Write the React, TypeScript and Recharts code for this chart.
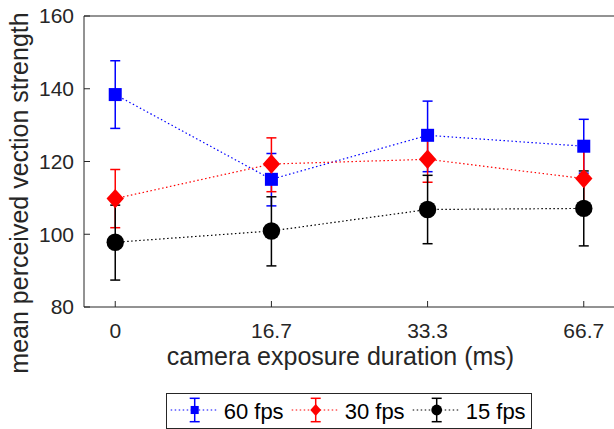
import React from 'react';
import { LineChart, Line, XAxis, YAxis, ErrorBar, Legend, Label } from 'recharts';

const categories = ['0', '16.7', '33.3', '66.7'];
const categoryPos = [0, 1, 2, 3];

const fps60Mean = [138.4, 115.1, 127.2, 124.2];
const fps60Upper = [147.7, 122.2, 136.6, 131.6];
const fps60Lower = [129.1, 107.8, 117.2, 116.8];

const fps30Mean = [109.8, 119.3, 120.6, 115.3];
const fps30Upper = [117.8, 126.5, 126.7, 122.9];
const fps30Lower = [101.8, 111.7, 114.3, 107.7];

const fps15Mean = [97.8, 100.9, 106.8, 107.1];
const fps15Upper = [108.0, 110.3, 116.2, 117.4];
const fps15Lower = [87.4, 91.3, 97.4, 96.8];

const yTicks = [80, 100, 120, 140, 160];
const seriesNames = ['60 fps', '30 fps', '15 fps'];

const data = categories.map((c, i) => ({
  pos: categoryPos[i],
  label: c,
  fps60: fps60Mean[i],
  fps60Err: [fps60Mean[i] - fps60Lower[i], fps60Upper[i] - fps60Mean[i]],
  fps30: fps30Mean[i],
  fps30Err: [fps30Mean[i] - fps30Lower[i], fps30Upper[i] - fps30Mean[i]],
  fps15: fps15Mean[i],
  fps15Err: [fps15Mean[i] - fps15Lower[i], fps15Upper[i] - fps15Mean[i]],
}));

const FONT = '"Liberation Sans", Arial, Helvetica, sans-serif';
const AXIS = '#262626';
const BLUE = '#0000ff';
const RED = '#ff0000';
const BLACK = '#000000';

const series = [
  { key: 'fps60', err: 'fps60Err', name: seriesNames[0], color: BLUE, shape: 'square' },
  { key: 'fps30', err: 'fps30Err', name: seriesNames[1], color: RED, shape: 'diamond' },
  { key: 'fps15', err: 'fps15Err', name: seriesNames[2], color: BLACK, shape: 'circle' },
];

function marker(shape: string, cx: number, cy: number, color: string, scale: number, key?: string) {
  if (shape === 'square') {
    const s = 13 * scale;
    return <rect key={key} x={cx - s / 2} y={cy - s / 2} width={s} height={s} fill={color} />;
  }
  if (shape === 'diamond') {
    const w = 8.7 * scale;
    const h = 9.7 * scale;
    return (
      <polygon
        key={key}
        points={`${cx},${cy - h} ${cx + w},${cy} ${cx},${cy + h} ${cx - w},${cy}`}
        fill={color}
      />
    );
  }
  return <circle key={key} cx={cx} cy={cy} r={8.7 * scale} fill={color} />;
}

const makeDot = (shape: string, color: string) => (props: any) => {
  const { cx, cy, index } = props;
  if (cx == null || cy == null) return <g key={`e-${shape}-${index}`} />;
  return marker(shape, cx, cy, color, 1, `d-${shape}-${index}`);
};

const renderLegend = () => (
  <div
    style={{
      width: 366,
      height: 36,
      boxSizing: 'border-box',
      border: `1px solid ${AXIS}`,
      background: '#fff',
    }}
  >
    <svg width={364} height={34} style={{ display: 'block' }}>
      {series.map((s, i) => {
        const x0 = 3.7 + i * 121;
        const mx = x0 + 24;
        return (
          <g key={s.key}>
            <line x1={x0} y1={16} x2={x0 + 47.5} y2={16} stroke={s.color} strokeWidth={1.2} strokeDasharray="1.5 2.5" />
            <line x1={mx} y1={4.3} x2={mx} y2={27.7} stroke={s.color} strokeWidth={1.5} />
            <line x1={mx - 5} y1={4.3} x2={mx + 5} y2={4.3} stroke={s.color} strokeWidth={1.5} />
            <line x1={mx - 5} y1={27.7} x2={mx + 5} y2={27.7} stroke={s.color} strokeWidth={1.5} />
            {marker(s.shape, mx, 16, s.color, 0.62)}
            <text x={x0 + 53} y={24.5} fontSize={22} fontFamily={FONT} fill="#000">
              {s.name}
            </text>
          </g>
        );
      })}
    </svg>
  </div>
);

const YLabel = () => (
  <text
    x={28}
    y={193}
    transform="rotate(-90 28 193)"
    textAnchor="middle"
    fontSize={25}
    fontFamily={FONT}
    fill={AXIS}
  >
    mean perceived vection strength
  </text>
);

export default function App() {
  return (
    <div style={{ position: 'absolute', left: 0, top: 0, width: 614, height: 429, overflow: 'hidden', background: '#fff', fontFamily: FONT }}>
      <LineChart
        width={640}
        height={429}
        data={data}
        margin={{ top: 15, right: 24, left: 0, bottom: 16 }}
      >
        <XAxis
          xAxisId="top"
          orientation="top"
          dataKey="pos"
          type="number"
          domain={[-0.2, 3.2]}
          ticks={categoryPos}
          allowDataOverflow
          height={1}
          tick={false}
          tickSize={-6}
          axisLine={{ stroke: AXIS, strokeWidth: 1 }}
          tickLine={{ stroke: AXIS, strokeWidth: 1 }}
        />
        <XAxis
          dataKey="pos"
          type="number"
          domain={[-0.2, 3.2]}
          ticks={categoryPos}
          allowDataOverflow
          tickFormatter={(v: number) => categories[v]}
          height={70}
          tickSize={-6}
          tickMargin={22}
          axisLine={{ stroke: AXIS, strokeWidth: 1 }}
          tickLine={{ stroke: AXIS, strokeWidth: 1 }}
          tick={{ fill: AXIS, fontSize: 21, fontFamily: FONT }}
        >
          <Label
            value="camera exposure duration (ms)"
            position="insideBottom"
            offset={12}
            dx={-9}
            style={{ fontSize: 25, fontFamily: FONT, fill: AXIS }}
          />
        </XAxis>
        <YAxis
          type="number"
          domain={[80, 160]}
          ticks={yTicks}
          allowDataOverflow
          width={84}
          tickSize={-6}
          tickMargin={16}
          axisLine={{ stroke: AXIS, strokeWidth: 1 }}
          tickLine={{ stroke: AXIS, strokeWidth: 1 }}
          tick={{ fill: AXIS, fontSize: 21, fontFamily: FONT }}
          label={<YLabel />}
        />
        <YAxis
          yAxisId="right"
          orientation="right"
          type="number"
          domain={[80, 160]}
          ticks={yTicks}
          allowDataOverflow
          width={1}
          tick={false}
          tickSize={-6}
          axisLine={{ stroke: AXIS, strokeWidth: 1 }}
          tickLine={{ stroke: AXIS, strokeWidth: 1 }}
        />
        <Legend
          verticalAlign="bottom"
          content={renderLegend}
          wrapperStyle={{ top: 393, left: 166, bottom: 'auto', width: 366, height: 36 }}
        />
        {series.map((s) => (
          <Line
            key={s.key}
            dataKey={s.key}
            name={s.name}
            stroke={s.color}
            strokeWidth={1.2}
            strokeDasharray="1.5 2.5"
            isAnimationActive={false}
            dot={makeDot(s.shape, s.color)}
            activeDot={false}
          >
            <ErrorBar dataKey={s.err} width={5} stroke={s.color} strokeWidth={1.5} direction="y" />
          </Line>
        ))}
      </LineChart>
    </div>
  );
}
